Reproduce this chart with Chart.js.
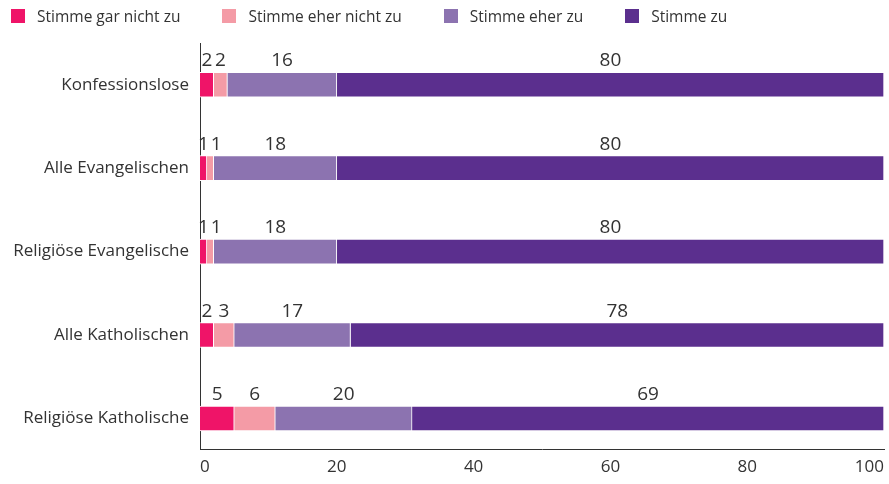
<!DOCTYPE html>
<html>
<head>
<meta charset="utf-8">
<script src="https://cdn.jsdelivr.net/npm/chart.js@4"></script>
<style>
  body { margin: 0; background: #fff; font-family: 'Open Sans', sans-serif; }
  #wrap { position: relative; width: 889px; height: 484px; }
  #legend { position: absolute; top: 5px; left: 11px; display: flex; font-size: 15.5px; color: #333; }
  #legend .item { display: flex; align-items: center; margin-right: 42px; }
  #legend .box { width: 14px; height: 14px; margin-right: 12px; }
</style>
</head>
<body>
<div id="wrap">
  <div id="legend"></div>
  <canvas id="barChart" width="889" height="484"></canvas>
</div>
<script>
// Zustimmung nach Gruppe (Prozent)
const groups = ['Konfessionslose', 'Alle Evangelischen', 'Religiöse Evangelische', 'Alle Katholischen', 'Religiöse Katholische'];
const seriesNames = ['Stimme gar nicht zu', 'Stimme eher nicht zu', 'Stimme eher zu', 'Stimme zu'];
const garNicht = [2, 1, 1, 2, 5];
const eherNicht = [2, 1, 1, 3, 6];
const eherZu = [16, 18, 18, 17, 20];
const zu = [80, 80, 80, 78, 69];
const xTicks = [0, 20, 40, 60, 80, 100];

const colors = ['#ef1468', '#f49ba6', '#8c73b0', '#5b2f8e'];
const values = [garNicht, eherNicht, eherZu, zu];

// legend in HTML
const legend = document.getElementById('legend');
seriesNames.forEach((name, i) => {
  const item = document.createElement('div');
  item.className = 'item';
  item.innerHTML = '<span class="box" style="background:' + colors[i] + '"></span><span>' + name + '</span>';
  legend.appendChild(item);
});

// values above each segment, pushed right when they would overlap
const valueLabels = {
  id: 'valueLabels',
  afterDatasetsDraw(chart) {
    const ctx = chart.ctx;
    ctx.save();
    ctx.font = '19px "Open Sans", sans-serif';
    ctx.fillStyle = '#333';
    ctx.textAlign = 'center';
    ctx.textBaseline = 'alphabetic';
    groups.forEach((g, i) => {
      let lastRight = -Infinity;
      chart.data.datasets.forEach((ds, di) => {
        const bar = chart.getDatasetMeta(di).data[i];
        const text = String(ds.data[i]);
        const w = ctx.measureText(text).width;
        let cx = (bar.x + bar.base) / 2;
        if (cx - w / 2 < lastRight + 2) cx = lastRight + 2 + w / 2;
        lastRight = cx + w / 2;
        ctx.fillText(text, cx, bar.y - bar.height / 2 - 6);
      });
    });
    ctx.restore();
  }
};

new Chart(document.getElementById('barChart'), {
  type: 'bar',
  data: {
    labels: groups,
    datasets: seriesNames.map((name, i) => ({
      label: name,
      data: values[i],
      backgroundColor: colors[i],
      borderColor: '#fff',
      borderWidth: 1,
      barThickness: 25
    }))
  },
  options: {
    indexAxis: 'y',
    responsive: false,
    animation: false,
    layout: { padding: { top: 43, right: 5, bottom: 0, left: 0 } },
    plugins: {
      legend: { display: false },
      tooltip: { enabled: false }
    },
    scales: {
      x: {
        stacked: true,
        min: 0,
        max: 100,
        afterBuildTicks: (scale) => { scale.ticks = xTicks.map(v => ({ value: v })); },
        afterFit: (scale) => { scale.paddingLeft = 0; scale.paddingRight = 0; },
        grid: { display: false, drawTicks: false },
        border: { display: true, color: '#333', width: 1 },
        ticks: { align: 'inner', padding: 7, color: '#333', font: { family: 'Open Sans', size: 17 } }
      },
      y: {
        stacked: true,
        afterBuildTicks: (scale) => { scale._startValue = -0.5; scale._valueRange = 4.873; },
        afterFit: (scale) => { scale.width = 200; },
        grid: { display: false, drawTicks: false },
        border: { display: true, color: '#333', width: 1 },
        ticks: { padding: 11, color: '#333', font: { family: 'Open Sans', size: 17 } }
      }
    }
  },
  plugins: [valueLabels]
});
</script>
</body>
</html>
